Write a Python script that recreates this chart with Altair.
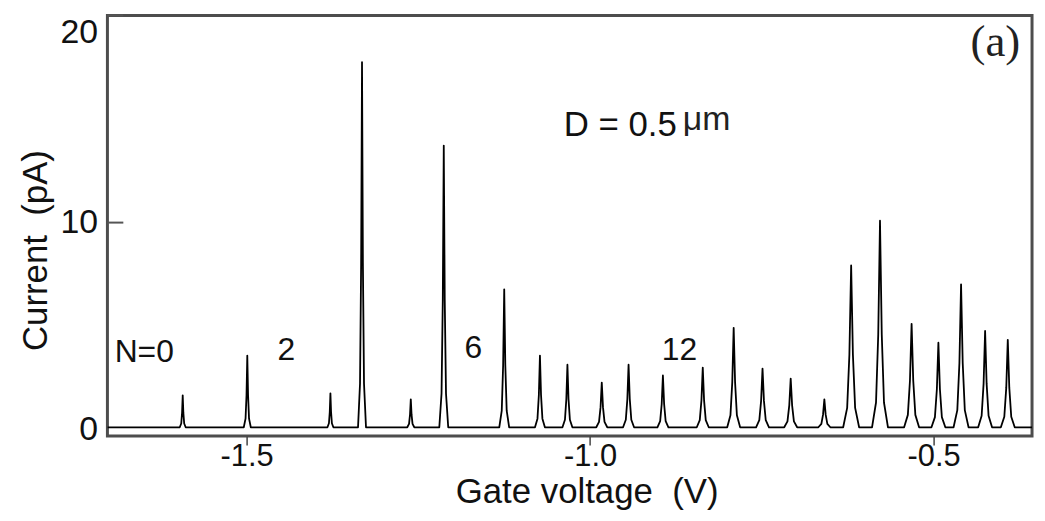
import altair as alt
import pandas as pd

# ---- data ----
peak_v = [-1.593, -1.499, -1.378, -1.332, -1.261, -1.213, -1.125, -1.073, -1.033, -0.983,
          -0.944, -0.894, -0.836, -0.791, -0.749, -0.708, -0.659, -0.620, -0.578, -0.532,
          -0.493, -0.460, -0.425, -0.392]
peak_i = [1.66, 3.58, 1.76, 17.74, 1.47, 13.72, 6.78, 3.58, 3.14, 2.28,
          3.14, 2.62, 3.00, 4.92, 2.95, 2.47, 1.47, 7.93, 10.09, 5.11,
          4.20, 7.02, 4.77, 4.34]
peak_hw = [0.0043, 0.0051, 0.0043, 0.0058, 0.0051, 0.0065, 0.0072, 0.0072, 0.0072, 0.0080,
           0.0080, 0.0080, 0.0087, 0.0094, 0.0094, 0.0094, 0.0087, 0.0116, 0.0116, 0.0109,
           0.0101, 0.0109, 0.0101, 0.0101]
baseline = 0.12
v_start, v_end = -1.7026, -0.3567

x_ticks = [-1.5, -1.0, -0.5]
y_ticks = [0, 10, 20]
y_inner_ticks = [10, 20]

ann_text = ["N=0", "2", "6", "12"]
ann_v = [-1.649, -1.442, -1.170, -0.870]
ann_i = [3.77, 3.86, 3.96, 3.86]

# ---- build the trace table from the peak lists ----
rows = [(v_start, baseline)]
for c, h, w in zip(peak_v, peak_i, peak_hw):
    rows += [(c - w, baseline),
             (c - 0.5 * w, baseline + 0.12 * (h - baseline)),
             (c - 0.22 * w, baseline + 0.45 * (h - baseline)),
             (c, h),
             (c + 0.22 * w, baseline + 0.45 * (h - baseline)),
             (c + 0.5 * w, baseline + 0.12 * (h - baseline)),
             (c + w, baseline)]
rows.append((v_end, baseline))
trace = pd.DataFrame(rows, columns=["v", "i"])
trace["k"] = range(len(trace))

FONT = "Liberation Sans"
xscale = alt.Scale(domain=[v_start, v_end], nice=False, zero=False)
yscale = alt.Scale(domain=[-0.3, 20], nice=False, zero=False)

line = alt.Chart(trace).mark_line(
    color="black", strokeWidth=1.8, strokeJoin="round", clip=True
).encode(
    x=alt.X("v:Q", scale=xscale,
            axis=alt.Axis(values=x_ticks, format=".1f",
                          labelExpr="replace(datum.label, '\u2212', '-')",
                          labelFontSize=31,
                          title="Gate voltage\u00a0\u00a0(V)",
                          titleX=482, titleY=56, titleBaseline="middle",
                          titleAlign="center",
                          tickSize=9, tickWidth=1.5, tickColor="#444",
                          labelPadding=-3)),
    y=alt.Y("i:Q", scale=yscale,
            axis=alt.Axis(values=y_ticks, format="d", ticks=False,
                          labelPadding=10, labelFlush=True,
                          title="Current\u00a0\u00a0(pA)",
                          titleX=-72, titleY=236, titleBaseline="middle",
                          titleAlign="center", titleAngle=270)),
    order="k:Q",
)

ytick_df = pd.DataFrame({"i": y_inner_ticks})
yticks = alt.Chart(ytick_df).mark_rule(color="#555", strokeWidth=2).encode(
    x=alt.value(0), x2=alt.value(16), y=alt.Y("i:Q", scale=yscale)
)

ann_df = pd.DataFrame({"t": ann_text, "v": ann_v, "i": ann_i})
ann = alt.Chart(ann_df).mark_text(
    font=FONT, fontSize=32, color="#111", align="center", baseline="middle"
).encode(x=alt.X("v:Q", scale=xscale), y=alt.Y("i:Q", scale=yscale), text="t:N")

dlab = alt.Chart(pd.DataFrame({"t": ["D = 0.5"], "v": [-1.0384], "i": [14.71]})).mark_text(
    font=FONT, fontSize=35, color="#111", align="left", baseline="middle"
).encode(x=alt.X("v:Q", scale=xscale), y=alt.Y("i:Q", scale=yscale), text="t:N")

mulab = alt.Chart(pd.DataFrame({"t": ["\u03bcm"], "v": [-0.865], "i": [14.97]})).mark_text(
    font=FONT, fontSize=34, color="#222", align="left", baseline="middle"
).encode(x=alt.X("v:Q", scale=xscale), y=alt.Y("i:Q", scale=yscale), text="t:N")

alab = alt.Chart(pd.DataFrame({"t": ["(a)"], "v": [-0.410], "i": [18.7]})).mark_text(
    font="Liberation Serif", fontSize=45, color="#222", align="center", baseline="middle"
).encode(x=alt.X("v:Q", scale=xscale), y=alt.Y("i:Q", scale=yscale), text="t:N")

chart = alt.layer(line, yticks, ann, dlab, mulab, alab).properties(
    width=930, height=423,
    autosize=alt.AutoSizeParams(type="none"),
    padding={"left": 100, "top": 6, "right": 5, "bottom": 76},
).configure_view(
    stroke="#4d4d4d", strokeWidth=3
).configure_axis(
    domain=False, grid=False,
    labelFont=FONT, labelFontSize=34, labelColor="#111",
    titleFont=FONT, titleFontSize=35, titleFontWeight="normal", titleColor="#111",
)

chart.save("out.html", embed_options={"renderer": "svg", "actions": False})
